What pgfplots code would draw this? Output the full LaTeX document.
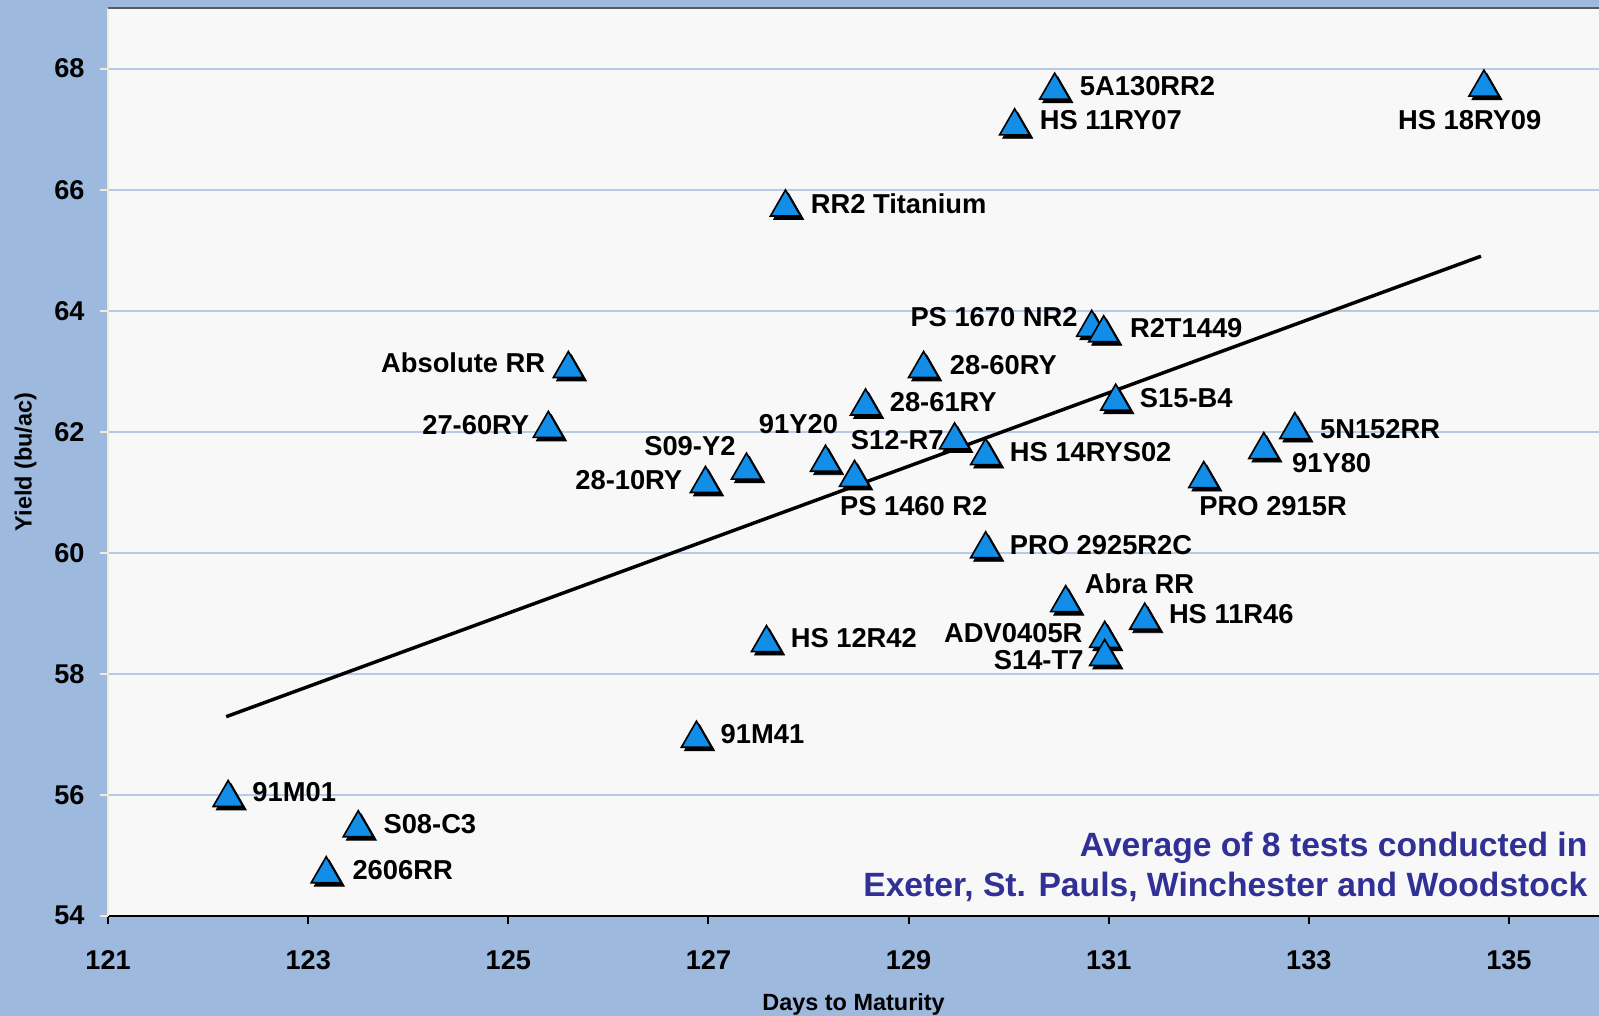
\documentclass[border=0pt]{standalone}
\usepackage{fontspec}
\setmainfont{Liberation Sans}
\usepackage{pgfplots}
\pgfplotsset{compat=1.18}
\definecolor{bgblue}{RGB}{157,185,222}
\definecolor{plotbg}{RGB}{248,248,248}
\definecolor{gridblue}{RGB}{182,202,232}
\definecolor{tri}{RGB}{18,142,232}
\definecolor{anncol}{RGB}{48,48,150}
\definecolor{cream}{RGB}{240,236,214}

\begin{document}
\begin{tikzpicture}
\useasboundingbox (-53pt,-49pt) rectangle (731pt,449pt);
\fill[bgblue] (-53pt,-49pt) rectangle (731pt,449pt);
\begin{axis}[
  at={(0,0)}, anchor=south west,
  scale only axis, width=731pt, height=445pt,
  xmin=121, xmax=135.9, ymin=54, ymax=69,
  xtick={121,123,...,135}, ytick={54,56,...,68},
  axis background/.style={fill=plotbg},
  axis x line*=bottom, axis y line*=left,
  x axis line style={black, line width=1.2pt, -},
  y axis line style={cream, line width=1pt, -},
  ymajorgrids, grid style={gridblue, line width=1pt},
  tick align=outside, major tick length=4pt,
  xtick style={black, line width=1pt},
  ytick style={cream, line width=1pt},
  /pgf/number format/assume math mode=true,
  ticklabel style={font=\bfseries\fontsize{13.3}{13}\selectfont},
  xticklabel style={yshift=-9.5pt},
  yticklabel style={xshift=-4pt},
  xlabel={Days to Maturity}, ylabel={Yield (bu/ac)},
  xlabel style={font=\bfseries\fontsize{11.5}{12}\selectfont, at={(axis description cs:0.5,-0.0975)}, anchor=center},
  ylabel style={font=\bfseries\fontsize{11.5}{12}\selectfont, at={(axis description cs:-0.0554,0.5)}, anchor=center},
  clip=false,
]
\addplot[black, line width=1.7pt] coordinates {(122.18,57.29) (134.72,64.90)};
% shadow
\addplot[only marks, mark=triangle*, mark size=8.5pt,
  mark options={draw=black, fill=black, xshift=1.5pt, yshift=-3.8pt}]
  coordinates {
(122.20,56.02) (123.50,55.52) (123.18,54.76) (126.88,57.00) (127.58,58.58)
(126.97,61.21) (127.38,61.43) (125.40,62.12) (125.60,63.11) (127.77,65.78)
(128.17,61.56) (128.46,61.31) (128.57,62.49) (129.15,63.11) (129.46,61.93)
(129.77,61.67) (129.77,60.13) (130.57,59.24) (130.96,58.65) (130.96,58.35)
(131.36,58.95) (130.83,63.79) (130.95,63.70) (131.07,62.57) (130.46,67.71)
(130.06,67.12) (134.75,67.76) (132.86,62.10) (132.55,61.77) (131.95,61.29)
};
\addplot[only marks, mark=triangle*, mark size=8.5pt,
  mark options={draw=black, fill=tri, line width=0.8pt, yshift=-2.1pt},
  nodes near coords, point meta=explicit symbolic,
  visualization depends on={value \thisrow{anc}\as\myanc},
  visualization depends on={\thisrow{dx}\as\mydx},
  visualization depends on={\thisrow{dy}\as\mydy},
  every node near coord/.append style={anchor=\myanc, xshift=\mydx pt, yshift=\mydy pt,
     yshift=1.8pt, inner sep=0pt, font=\bfseries\fontsize{13.4}{14}\selectfont, text=black}]
  table[col sep=comma, x=x, y=y, meta=label] {
x,y,anc,dx,dy,label
122.20,56.02,west,11.5,1,91M01
123.50,55.52,west,12,0,S08-C3
123.18,54.76,west,12.5,0,2606RR
126.88,57.00,west,11.5,0.5,91M41
127.58,58.58,west,11.5,0.5,HS 12R42
126.97,61.21,east,-11,0,28-10RY
127.38,61.43,east,-5,10,S09-Y2
125.40,62.12,east,-9,0,27-60RY
125.60,63.11,east,-11,1,Absolute RR
127.77,65.78,west,12,0,RR2 Titanium
128.17,61.56,east,6.5,17,91Y20
128.46,61.31,west,-7.5,-15.5,PS 1460 R2
128.57,62.49,west,11.5,0.5,28-61RY
129.15,63.11,west,12.5,0,28-60RY
129.46,61.93,east,-5,-1.5,S12-R7
129.77,61.67,west,11.5,0,HS 14RYS02
129.77,60.13,west,11.5,0,PRO 2925R2C
130.57,59.24,west,9,7.5,Abra RR
130.96,58.65,east,-10.5,1,ADV0405R
130.96,58.35,east,-10,-3.5,S14-T7
131.36,58.95,west,11.5,1.5,HS 11R46
130.83,63.79,east,-6.5,3.5,PS 1670 NR2
130.95,63.70,west,12.5,0.5,R2T1449
131.07,62.57,west,11.5,0,S15-B4
130.46,67.71,west,12,0.5,5A130RR2
130.06,67.12,west,12,1,HS 11RY07
134.75,67.76,west,-42.5,-18,HS 18RY09
132.86,62.10,west,12,-1.5,5N152RR
132.55,61.77,west,13.5,-8.5,91Y80
131.95,61.29,west,-2.5,-15,PRO 2915R
};
\draw[gray!70!black, line width=0.8pt] (rel axis cs:0,1) -- (rel axis cs:1,1);
\node[anchor=south east, align=right, inner sep=0pt, text=anncol,
  font=\bfseries\fontsize{16.5}{20}\selectfont]
  at (rel axis cs:1,0) [xshift=-5.5pt, yshift=6.5pt]
  {Average of 8 tests conducted in\\Exeter, St. Pauls, Winchester and Woodstock};
\end{axis}
\end{tikzpicture}
\end{document}
